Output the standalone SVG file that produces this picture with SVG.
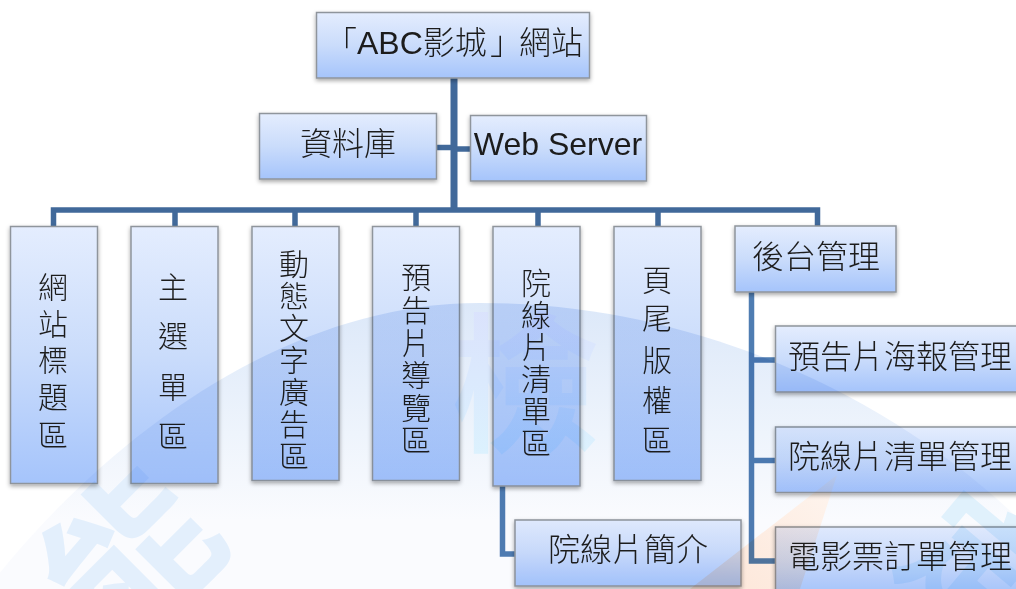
<svg xmlns="http://www.w3.org/2000/svg" width="1016" height="589" viewBox="0 0 1016 589">
<style>
text{font-family:"Liberation Sans","Noto Sans CJK TC",sans-serif;fill:#1c1c1c;text-anchor:middle;font-weight:300}
.h{font-size:32px}
.v{font-size:30px}
.b{fill:url(#g);stroke:#8f959c;stroke-width:1.5;filter:url(#s)}
.c{fill:none;stroke:#41699a;stroke-width:5.500}
.l{stroke:#4f7db2}
.w{font-weight:700;font-family:"Noto Sans CJK TC",sans-serif}
</style>
<defs>
<linearGradient id="g" x1="0" y1="0" x2="0" y2="1"><stop offset="0" stop-color="#e4edfe"/><stop offset=".5" stop-color="#cadcfb"/><stop offset="1" stop-color="#a5c4fb"/></linearGradient>
<linearGradient id="w" gradientUnits="userSpaceOnUse" x1="0" y1="303" x2="0" y2="520"><stop offset="0" stop-color="#dce8f9"/><stop offset=".6" stop-color="#eef4fc"/><stop offset="1" stop-color="#fafbfe"/></linearGradient>
<linearGradient id="k" x1="0" y1="0" x2="0" y2="1"><stop offset="0" stop-color="#dadefc"/><stop offset="1" stop-color="#dcf4fe"/></linearGradient>
<linearGradient id="o" gradientUnits="userSpaceOnUse" x1="837" y1="475" x2="740" y2="589"><stop offset="0" stop-color="#fef5ef"/><stop offset="1" stop-color="#fde8db"/></linearGradient>
<filter id="s" x="-10%" y="-10%" width="120%" height="120%"><feDropShadow dx="0" dy="2" stdDeviation="2" flood-color="#000" flood-opacity=".35"/></filter>
</defs>
<rect width="1016" height="589" fill="#fff"/>
<g id="connectors">
<path class="c" d="M454 78V210" style="stroke-width:7"/>
<path class="c" d="M53.500 226V210H817.500V226"/>
<path class="c" d="M175 210V226M295 210V226M416 210V226M538 210V226M658 210V226"/>
<path class="c" d="M437 147.500H454"/>
<path class="c" d="M454 149H470"/>
<path class="c l" d="M502.500 486V554H515"/>
<path class="c l" d="M751.500 292V561H775M751.500 360H775M751.500 460.500H775"/>
</g>
<g id="n-root"><rect class="b" x="316.500" y="12.500" width="273" height="65.500"/><text class="h" y="54" style="text-anchor:start"><tspan x="325">「</tspan><tspan x="357">ABC影城</tspan><tspan x="490">」</tspan><tspan x="519">網站</tspan></text></g>
<g id="n-db"><rect class="b" x="259.500" y="113.500" width="177" height="65.500"/><text class="h" x="348" y="155">資料庫</text></g>
<g id="n-web"><rect class="b" x="470.500" y="115.500" width="176" height="65.500"/><text class="h" x="558" y="155">Web Server</text></g>
<g id="n-1"><rect class="b" x="10.500" y="226.500" width="87" height="257"/><text class="v" x="53" y="298">網</text><text class="v" x="53" y="335">站</text><text class="v" x="53" y="371">標</text><text class="v" x="53" y="408">題</text><text class="v" x="53" y="446">區</text></g>
<g id="n-2"><rect class="b" x="131" y="226.500" width="87" height="257"/><text class="v" x="173" y="298">主</text><text class="v" x="173" y="347">選</text><text class="v" x="173" y="398">單</text><text class="v" x="173" y="447">區</text></g>
<g id="n-3"><rect class="b" x="252" y="226.500" width="87" height="254"/><text class="v" x="294" y="275">動</text><text class="v" x="294" y="307">態</text><text class="v" x="294" y="339">文</text><text class="v" x="294" y="371">字</text><text class="v" x="294" y="403">廣</text><text class="v" x="294" y="435">告</text><text class="v" x="294" y="467">區</text></g>
<g id="n-4"><rect class="b" x="372.500" y="226.500" width="87" height="254"/><text class="v" x="416" y="288">預</text><text class="v" x="416" y="321">告</text><text class="v" x="416" y="354">片</text><text class="v" x="416" y="386">導</text><text class="v" x="416" y="419">覽</text><text class="v" x="416" y="451">區</text></g>
<g id="n-5"><rect class="b" x="493" y="226.500" width="87" height="259.500"/><text class="v" x="536" y="294">院</text><text class="v" x="536" y="326">線</text><text class="v" x="536" y="358">片</text><text class="v" x="536" y="390">清</text><text class="v" x="536" y="422">單</text><text class="v" x="536" y="454">區</text></g>
<g id="n-6"><rect class="b" x="614" y="226.500" width="87" height="254"/><text class="v" x="657" y="291">頁</text><text class="v" x="657" y="329">尾</text><text class="v" x="657" y="371">版</text><text class="v" x="657" y="411">權</text><text class="v" x="657" y="451">區</text></g>
<g id="n-7"><rect class="b" x="735" y="226" width="161" height="66"/><text class="h" x="816" y="268">後台管理</text></g>
<g id="n-8"><rect class="b" x="775.500" y="326" width="245" height="66"/><text class="h" x="900" y="368">預告片海報管理</text></g>
<g id="n-9"><rect class="b" x="775.500" y="427" width="245" height="65.500"/><text class="h" x="900" y="468">院線片清單管理</text></g>
<g id="n-10"><rect class="b" x="775.500" y="527" width="245" height="70"/><text class="h" x="900" y="568">電影票訂單管理</text></g>
<g id="n-11"><rect class="b" x="515" y="520" width="226" height="66"/><text class="h" x="628" y="561">院線片簡介</text></g>
<g id="watermark" style="mix-blend-mode:multiply">
<path d="M-10 585C100 445 280 303 480 303C700 303 900 400 1030 530V589H-10Z" fill="url(#w)"/>
<path d="M837 475L690 589H800Z" fill="url(#o)"/>
<text class="w" x="525" y="440" font-size="150" style="fill:url(#k)">檢</text>
<text class="w" transform="translate(135 560) rotate(-45)" y="55" font-size="165" style="fill:#e3effc">能</text>
<text class="w" transform="translate(975 570) rotate(40)" y="50" font-size="140" style="fill:#e0f1fc">定</text>
</g>
</svg>
